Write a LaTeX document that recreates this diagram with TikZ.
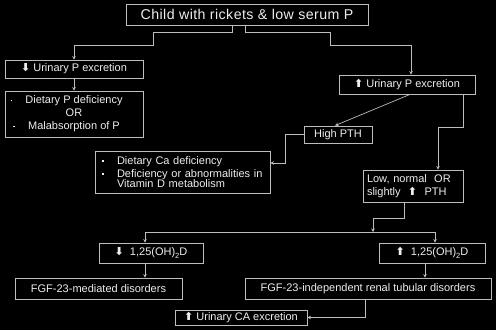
\documentclass[tikz,border=0pt]{standalone}
\usepackage{fontspec}
\setmainfont{Liberation Sans}
\newfontfamily\titlefont{Liberation Sans}[LetterSpace=3]
\newfontfamily\djv{DejaVu Sans}
\usetikzlibrary{arrows.meta,calc}
\newcommand{\upar}{{\djv\bfseries\char"2B06}}
\newcommand{\dnar}{{\djv\bfseries\char"2B07}}
\newcommand{\subtwo}{\raisebox{-0.4ex}{\fontsize{7.5}{8}\selectfont 2}}
\newcommand{\bul}{\makebox[0pt][r]{\raisebox{2.5pt}{\rule{1.8pt}{1.8pt}}\hspace{13pt}}}
\definecolor{linec}{HTML}{BDBDBD}
\definecolor{txt}{HTML}{EEEEEE}
\begin{document}
\begin{tikzpicture}[x=1pt,y=-1pt,
  box/.style={draw=linec, line width=0.8pt, text=txt, inner sep=0pt,
    font=\fontsize{11}{13}\selectfont},
  conn/.style={draw=linec, line width=0.7pt, -{Stealth[length=3.5pt,width=3.5pt]}},
  plain/.style={draw=linec, line width=0.7pt}]
\fill[black] (0,0) rectangle (496,330);
\useasboundingbox (0,0) rectangle (496,330);

\node[box, minimum width=242pt, minimum height=21pt, font=\titlefont\fontsize{14.2}{16}\selectfont] (title) at (247,14.5) {Child with rickets \& low serum P};
\node[box, minimum width=138pt, minimum height=18pt] (lp) at (74,69) {\dnar\ Urinary P excretion};
\node[box, minimum width=138pt, minimum height=46pt, align=center] (ldiet) at (74,114) {\bul Dietary P deficiency\\OR\\\bul Malabsorption of P};
\node[box, minimum width=136pt, minimum height=19pt] (rp) at (407,84.5) {\upar\ Urinary P excretion};
\node[box, minimum width=68pt, minimum height=17pt] (hpth) at (338,134.5) {High PTH};
\node[box, minimum width=175pt, minimum height=42pt, text width=171pt, align=left] (ca) at (182.5,172)
  {\fontsize{11}{10.5}\selectfont\hspace*{20pt}\bul Dietary Ca deficiency\\[2.5pt]
   \hspace*{20pt}\bul Deficiency or abnormalities in\\
   \hspace*{20pt}Vitamin D metabolism\\[3pt]};
\node[box, minimum width=100pt, minimum height=32pt, text width=92pt, align=left] (low) at (413,186)
  {Low, normal \ OR\\slightly \ \upar\ \ PTH};
\node[box, minimum width=104pt, minimum height=20pt] (d1) at (151,253) {\dnar\ \ 1,25(OH)\subtwo D};
\node[box, minimum width=106pt, minimum height=20pt] (d2) at (432,253) {\upar\ \ 1,25(OH)\subtwo D};
\node[box, minimum width=167pt, minimum height=21pt] (fm) at (98.5,288.5) {FGF-23-mediated disorders};
\node[box, minimum width=246pt, minimum height=21pt] (fi) at (368,288.5) {FGF-23-independent renal tubular disorders};
\node[box, minimum width=132pt, minimum height=15pt] (uca) at (241,317.5) {\upar\ Urinary CA excretion};

\draw[conn] ([xshift=-15pt]title.south) -- ++(0,7) -| (153,45) -| (lp.north);
\draw[conn] ([xshift=-2pt]title.south) -- ++(0,7) -| (330,45) -| ([xshift=4pt]rp.north);
\draw[conn] (lp.south) -- (ldiet.north);
\draw[conn] ([xshift=3pt]rp.south) -- ([xshift=-3pt]hpth.north);
\draw[conn] ([xshift=56pt]rp.south) -- ++(0,33) -| ([xshift=25pt]low.north);
\draw[conn] (hpth.west) -- ++(-18,0) |- ([yshift=9pt]ca.east);
\coordinate (split) at (373,232);
\coordinate (sl) at (145,232);
\coordinate (sr) at (435,232);
\draw[conn] ([xshift=-9pt]low.south) -- ++(0,16) -| (split);
\draw[plain] (sl) -- (sr);
\draw[conn] (sl) -- (sl |- d1.north);
\draw[conn] (sr) -- (sr |- d2.north);
\draw[conn] ([xshift=-6pt]d1.south) -- ([xshift=-6pt]d1.south |- fm.north);
\draw[conn] ([xshift=-7pt]d2.south) -- ([xshift=-7pt]d2.south |- fi.north);
\draw[conn] ([xshift=-3pt]fi.south) |- (uca.east);
\end{tikzpicture}
\end{document}
